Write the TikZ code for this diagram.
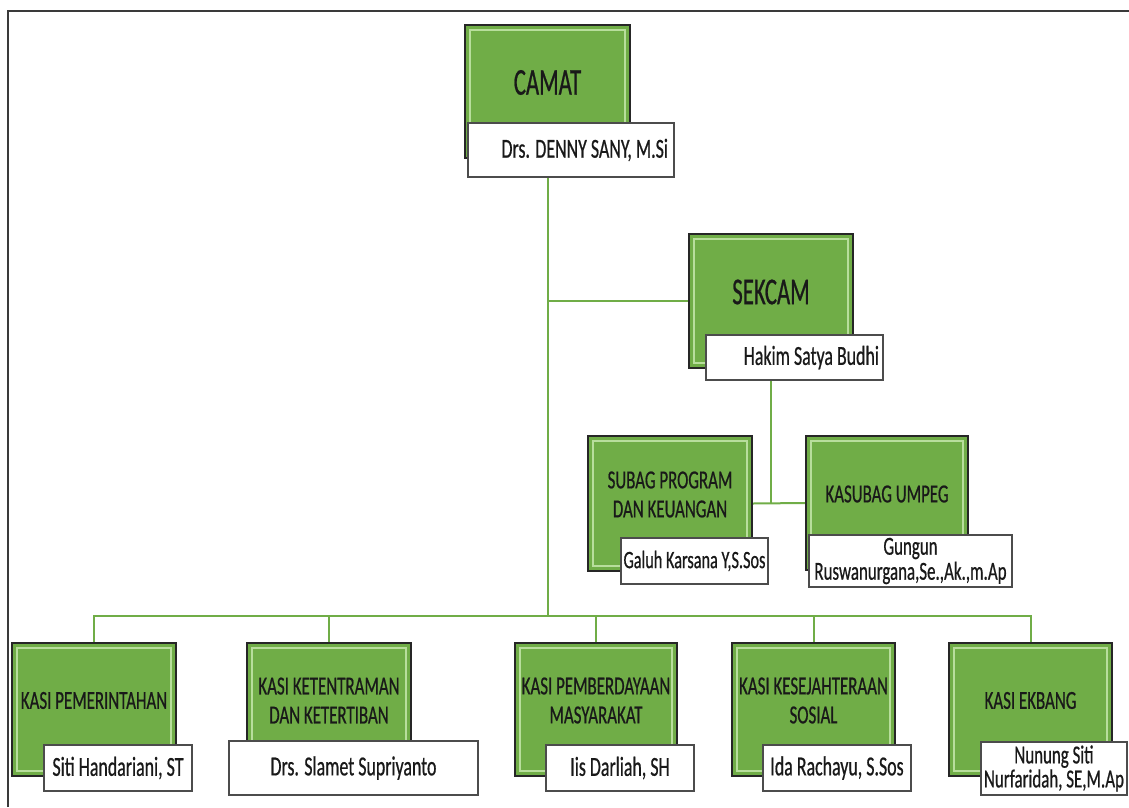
\documentclass[tikz,border=0pt]{standalone}
\usepackage{fontspec}
\setmainfont{Carlito}
\newfontfamily\condfont[FakeStretch=0.65,FakeBold=0.6]{Carlito}
\newfontfamily\bigcondfont[FakeStretch=0.6,FakeBold=0.6]{Carlito}
\pgfdeclarelayer{bg}
\pgfsetlayers{bg,main}
\definecolor{boxgreen}{HTML}{70AD47}
\definecolor{bevelgreen}{HTML}{B8DE9C}
\definecolor{linegreen}{HTML}{70AD47}
\definecolor{framegray}{HTML}{3A3A3A}
\tikzset{
  greenbox/.style={draw=black!85, line width=1.3pt, fill=boxgreen, inner sep=0pt, anchor=center,
    path picture={\draw[bevelgreen, line width=1.6pt]
      ([shift={(5pt,-5pt)}]path picture bounding box.north west) rectangle
      ([shift={(-5pt,5pt)}]path picture bounding box.south east);}},
  bigtitle/.style={font=\bigcondfont\fontsize{38}{40}\selectfont, text=black!90, yshift=9pt},
  smalltitle/.style={font=\condfont\fontsize{26}{29}\selectfont, text=black!90, align=center, yshift=9pt},
  namebox/.style={draw=black!70, line width=1.2pt, fill=white, inner sep=0pt, anchor=center,
    font=\condfont\fontsize{27.5}{25}\selectfont, text=black!90, align=center},
  conn/.style={draw=linegreen, line width=2pt},
  frameline/.style={draw=framegray, line width=1.5pt}
}
\begin{document}
\begin{tikzpicture}[x=1pt,y=-1pt]
\useasboundingbox (0,0) rectangle (1129,807);
\draw[frameline] (8,807) -- (8,11) -- (1129,11);

% green boxes
\node[greenbox, minimum width=165pt, minimum height=133pt,
  label={[bigtitle]center:CAMAT}] (camat) at (547.5,91.5) {};
\node[greenbox, minimum width=164pt, minimum height=134pt,
  label={[bigtitle]center:SEKCAM}] (sekcam) at (771,301) {};
\node[greenbox, minimum width=164pt, minimum height=135pt,
  label={[smalltitle]center:SUBAG PROGRAM\\DAN KEUANGAN}] (subag) at (670,503.5) {};
\node[greenbox, minimum width=162pt, minimum height=134pt,
  label={[smalltitle]center:KASUBAG UMPEG}] (umpeg) at (887,503) {};
\node[greenbox, minimum width=164pt, minimum height=133pt,
  label={[smalltitle]center:KASI PEMERINTAHAN}] (k1) at (94,709.5) {};
\node[greenbox, minimum width=164pt, minimum height=133pt,
  label={[smalltitle]center:KASI KETENTRAMAN\\DAN KETERTIBAN}] (k2) at (329,709.5) {};
\node[greenbox, minimum width=162pt, minimum height=133pt,
  label={[smalltitle]center:KASI PEMBERDAYAAN\\MASYARAKAT}] (k3) at (596,709.5) {};
\node[greenbox, minimum width=163pt, minimum height=133pt,
  label={[smalltitle]center:KASI KESEJAHTERAAN\\SOSIAL}] (k4) at (813.5,709.5) {};
\node[greenbox, minimum width=163pt, minimum height=133pt,
  label={[smalltitle]center:KASI EKBANG}] (k5) at (1030.5,709.5) {};

% name boxes
\node[namebox, minimum width=206pt, minimum height=54pt, text width=194pt, align=flush right]
  (camatname) at (571,150) {Drs. DENNY SANY, M.Si};
\node[namebox, minimum width=177pt, minimum height=45pt, text width=169pt, align=flush right]
  (sekname) at (794.5,357.5) {Hakim Satya Budhi};
\node[namebox, minimum width=147pt, minimum height=46pt, font=\condfont\fontsize{25}{25}\selectfont]
  (subagname) at (694.5,561) {Galuh Karsana Y,S.Sos};
\node[namebox, minimum width=203pt, minimum height=52pt, font=\condfont\fontsize{26}{25}\selectfont]
  (umpegname) at (910.5,561) {Gungun\\Ruswanurgana,Se.,Ak.,m.Ap};
\node[namebox, minimum width=148pt, minimum height=46pt]
  (k1name) at (118,768) {Siti Handariani, ST};
\node[namebox, minimum width=249pt, minimum height=54pt]
  (k2name) at (353.5,768) {Drs. Slamet Supriyanto};
\node[namebox, minimum width=148pt, minimum height=46pt]
  (k3name) at (620,768) {Iis Darliah, SH};
\node[namebox, minimum width=148pt, minimum height=46pt]
  (k4name) at (837,768) {Ida Rachayu, S.Sos};
\node[namebox, minimum width=146pt, minimum height=53pt, font=\condfont\fontsize{26}{24}\selectfont]
  (k5name) at (1054,768.5) {Nunung Siti\\Nurfaridah, SE,M.Ap};

\coordinate (bus) at (547.5,616);

\begin{pgfonlayer}{bg}
  \draw[conn] (camat.center) -- (bus);
  \draw[conn] (sekcam.west) -- (sekcam.west -| camat);
  \draw[conn] (sekcam.center) -- (subag.east -| sekcam);
  \draw[conn] (subag.east) -- (umpeg.west);
  \draw[conn] (k1.north) -- (k1.north |- bus) -- (k5.north |- bus) -- (k5.north);
  \draw[conn] (k2.north) -- (k2.north |- bus);
  \draw[conn] (k3.north) -- (k3.north |- bus);
  \draw[conn] (k4.north) -- (k4.north |- bus);
\end{pgfonlayer}
\end{tikzpicture}
\end{document}
